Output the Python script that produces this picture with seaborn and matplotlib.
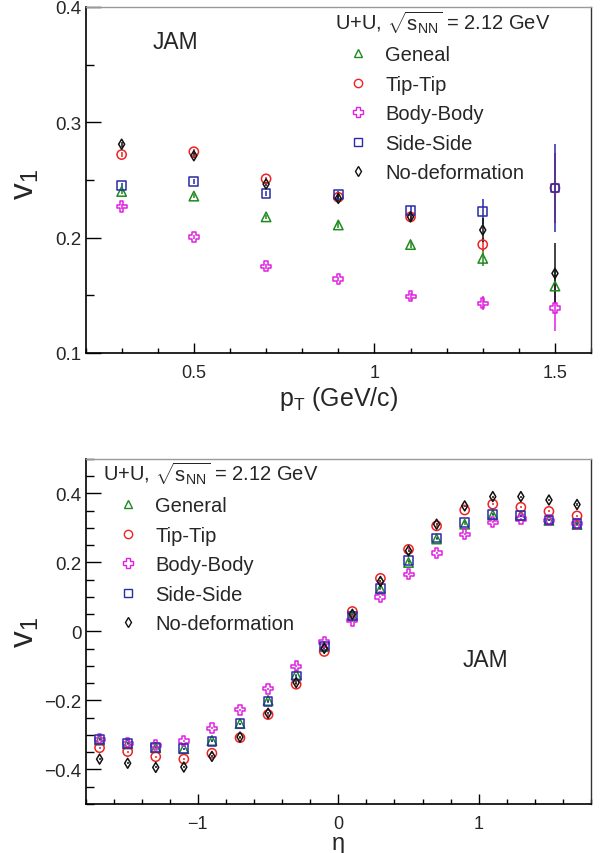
import numpy as np
import pandas as pd
import matplotlib
matplotlib.use("Agg")
import matplotlib.pyplot as plt
from matplotlib.lines import Line2D
from matplotlib.ticker import MultipleLocator
import seaborn as sns

# ---- v1 vs pT (U+U, 2.12 GeV, JAM) ----
pt = [0.3, 0.5, 0.7, 0.9, 1.1, 1.3, 1.5]
general_pt = [0.240, 0.236, 0.218, 0.211, 0.194, 0.182, 0.158]
tip_pt = [0.272, 0.2745, 0.251, 0.235, 0.218, 0.194, 0.243]
body_pt = [0.227, 0.2005, 0.175, 0.164, 0.149, 0.143, 0.139]
side_pt = [0.245, 0.2485, 0.2385, 0.2375, 0.2235, 0.2225, 0.243]
nodef_pt = [0.281, 0.271, 0.2465, 0.234, 0.218, 0.2066, 0.169]

general_pt_err = [0.002, 0.002, 0.002, 0.003, 0.003, 0.007, 0.014]
tip_pt_err = [0.002, 0.002, 0.002, 0.003, 0.003, 0.006, 0.030]
body_pt_err = [0.002, 0.002, 0.002, 0.002, 0.003, 0.006, 0.020]
side_pt_err = [0.002, 0.002, 0.002, 0.003, 0.004, 0.011, 0.038]
nodef_pt_err = [0.002, 0.002, 0.002, 0.003, 0.004, 0.010, 0.026]

# ---- v1 vs eta ----
eta = [-1.7, -1.5, -1.3, -1.1, -0.9, -0.7, -0.5, -0.3, -0.1,
       0.1, 0.3, 0.5, 0.7, 0.9, 1.1, 1.3, 1.5, 1.7]
general_eta = [-0.315, -0.326, -0.337, -0.340, -0.316, -0.267, -0.200, -0.125, -0.044,
               0.045, 0.123, 0.200, 0.268, 0.311, 0.338, 0.336, 0.322, 0.310]
tip_eta = [-0.337, -0.348, -0.363, -0.370, -0.353, -0.308, -0.241, -0.153, -0.058,
           0.058, 0.154, 0.238, 0.306, 0.352, 0.369, 0.360, 0.348, 0.335]
body_eta = [-0.313, -0.324, -0.330, -0.317, -0.281, -0.227, -0.166, -0.101, -0.031,
            0.031, 0.100, 0.166, 0.227, 0.282, 0.316, 0.326, 0.322, 0.312]
side_eta = [-0.313, -0.324, -0.336, -0.340, -0.318, -0.267, -0.203, -0.129, -0.042,
            0.045, 0.1255, 0.205, 0.271, 0.316, 0.340, 0.336, 0.323, 0.313]
nodef_eta = [-0.370, -0.382, -0.394, -0.393, -0.362, -0.306, -0.237, -0.148, -0.049,
             0.050, 0.145, 0.234, 0.311, 0.364, 0.391, 0.391, 0.381, 0.368]
eta_err = [0.003] * 18

top_labels = ["Geneal", "Tip-Tip", "Body-Body", "Side-Side", "No-deformation"]
bottom_labels = ["General", "Tip-Tip", "Body-Body", "Side-Side", "No-deformation"]

colors = ["#1f8a1f", "#ee2222", "#e020e0", "#2a2aa8", "#111111"]
markers = ["^", "o", "P", "s", "d"]
sizes = [46, 44, 52, 40, 26]

sns.set_theme(style="ticks")
plt.rcParams["font.family"] = ["Liberation Sans", "DejaVu Sans"]
plt.rcParams["mathtext.fontset"] = "custom"
plt.rcParams["mathtext.rm"] = "Liberation Sans"
plt.rcParams["mathtext.it"] = "Liberation Sans"
plt.rcParams["mathtext.sf"] = "Liberation Sans"

fig = plt.figure(figsize=(6.04, 8.54), dpi=100)
ax1 = fig.add_axes([0.1416, 0.5855, 0.837, 0.4052])
ax2 = fig.add_axes([0.1416, 0.0574, 0.837, 0.4040])


def draw_series(ax, x, ys, errs, labels):
    for y, e, lab, c, m, s in zip(ys, errs, labels, colors, markers, sizes):
        ax.errorbar(x, y, yerr=e, fmt="none", ecolor=c, elinewidth=1.1, capsize=0, zorder=2)
        df = pd.DataFrame({"x": x, "y": y})
        sns.scatterplot(data=df, x="x", y="y", ax=ax, marker=m, s=s,
                        facecolors="none", edgecolor=c, linewidth=1.1, zorder=3)


def style_axes(ax):
    for side in ["left", "bottom"]:
        ax.spines[side].set_color("black")
        ax.spines[side].set_linewidth(1.2)
    ax.spines["top"].set_color("#9a9a9a")
    ax.spines["top"].set_linewidth(1.0)
    ax.spines["right"].set_color("#333333")
    ax.spines["right"].set_linewidth(1.0)
    ax.tick_params(axis="y", which="major", direction="in", length=10.8, width=1.0,
                   labelsize=13.5, pad=3, color="black")
    ax.tick_params(axis="y", which="minor", direction="in", length=5.4, width=1.0, color="black")
    ax.tick_params(axis="x", which="major", direction="in", length=7.2, width=1.0,
                   labelsize=13, pad=8, color="black")
    ax.tick_params(axis="x", which="minor", direction="in", length=3.6, width=1.0, color="black")
    ax.tick_params(top=False, right=False, which="both")


def legend(ax, labels, anchor, header_xy):
    handles = [Line2D([], [], linestyle="none", marker=m, markersize=ms, markerfacecolor="none",
                      markeredgecolor=c, markeredgewidth=1.0)
               for m, c, ms in zip(markers, colors, [6, 6, 7, 6, 5])]
    leg = ax.legend(handles, labels, loc="upper left", bbox_to_anchor=anchor,
                    frameon=False, fontsize=14.5, handlelength=1.0, handletextpad=0.85,
                    labelspacing=0.52, borderpad=0, borderaxespad=0)
    ax.text(header_xy[0], header_xy[1], r"U+U, $\mathregular{\sqrt{s_{NN}}}$ = 2.12 GeV",
            transform=ax.transAxes, fontsize=14.5, ha="left", va="center")
    return leg


# top panel
draw_series(ax1, pt, [general_pt, tip_pt, body_pt, side_pt, nodef_pt],
            [general_pt_err, tip_pt_err, body_pt_err, side_pt_err, nodef_pt_err], top_labels)
ax1.set_xlim(0.2, 1.6)
ax1.set_ylim(0.1, 0.4)
ax1.xaxis.set_major_locator(MultipleLocator(0.5))
ax1.xaxis.set_minor_locator(MultipleLocator(0.1))
ax1.yaxis.set_major_locator(MultipleLocator(0.1))
ax1.yaxis.set_minor_locator(MultipleLocator(0.05))
ax1.set_xticks([0.5, 1.0, 1.5])
ax1.set_xticklabels(["0.5", "1", "1.5"])
ax1.set_yticks([0.1, 0.2, 0.3, 0.4])
ax1.set_yticklabels(["0.1", "0.2", "0.3", "0.4"])
ax1.set_xlabel(r"p$_\mathregular{T}$ (GeV/c)", fontsize=18, labelpad=2)
ax1.set_ylabel(r"v$_\mathregular{1}$", fontsize=24)
ax1.yaxis.set_label_coords(-0.088, 0.49)
ax1.text(0.177, 0.899, "JAM", transform=ax1.transAxes, fontsize=16.5, ha="center", va="center")
style_axes(ax1)
legend(ax1, top_labels, (0.519, 0.889), (0.494, 0.958))

# bottom panel
draw_series(ax2, eta, [general_eta, tip_eta, body_eta, side_eta, nodef_eta],
            [eta_err] * 5, bottom_labels)
ax2.set_xlim(-1.8, 1.8)
ax2.set_ylim(-0.5, 0.5)
ax2.xaxis.set_major_locator(MultipleLocator(1.0))
ax2.xaxis.set_minor_locator(MultipleLocator(0.2))
ax2.yaxis.set_major_locator(MultipleLocator(0.2))
ax2.yaxis.set_minor_locator(MultipleLocator(0.05))
ax2.set_xticks([-1, 0, 1])
ax2.set_xticklabels(["\u22121", "0", "1"])
ax2.set_yticks([-0.4, -0.2, 0, 0.2, 0.4])
ax2.set_yticklabels(["\u22120.4", "\u22120.2", "0", "0.2", "0.4"])
ax2.set_xlabel("\u03b7", fontsize=17, labelpad=0)
ax2.set_ylabel(r"v$_\mathregular{1}$", fontsize=24)
ax2.yaxis.set_label_coords(-0.088, 0.5)
ax2.text(0.792, 0.420, "JAM", transform=ax2.transAxes, fontsize=16.5, ha="center", va="center")
style_axes(ax2)
legend(ax2, bottom_labels, (0.064, 0.892), (0.035, 0.962))

fig.savefig("out.png", dpi=100)
